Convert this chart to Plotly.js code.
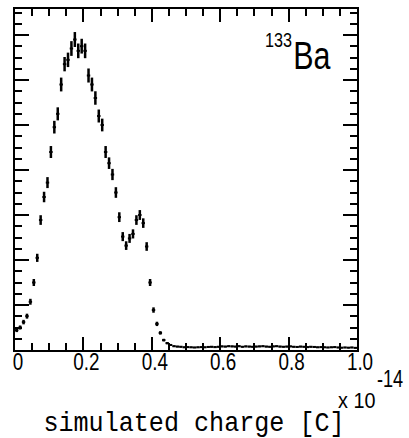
<!DOCTYPE html>
<html><head><meta charset="utf-8">
<script src="https://cdn.plot.ly/plotly-3.0.1.min.js"></script>
<style>
html,body{margin:0;padding:0;background:#fff}
</style>
</head><body>
<div id="plot" style="width:409px;height:438px"></div>
<script>
// bin centers (units of 1e-14 C)
const binCenters = [];
for (let i = 0; i < 100; i++) binCenters.push(+(0.005 + 0.01 * i).toFixed(3));
// counts
const counts = [
 110,125,155,188,268,375,512,722,850,930,
 1100,1238,1312,1475,1588,1612,1675,1725,1662,1688,
 1662,1525,1475,1400,1300,1250,1100,1038,975,875,
 738,630,580,620,645,722,750,705,575,375,
 222,145,95,55,38,28,21,19,18,15,
 16,15,14,15,16,15,17,18,16,18,
 20,19,21,20,19,21,18,20,19,18,
 19,20,21,19,18,20,21,19,18,19,
 20,18,17,19,18,16,18,17,15,16,
 15,14,15,16,14,13,14,13,14,12
];
const xTickVals = [0, 0.2, 0.4, 0.6, 0.8, 1.0];
const xTickText = ['0', '0.2', '0.4', '0.6', '0.8', '1.0'];

const fontSans = '"Liberation Sans", Arial, sans-serif';
const fontMono = '"Liberation Mono", "DejaVu Sans Mono", monospace';

const trace = {
  x: binCenters, y: counts, type: 'scatter', mode: 'markers',
  marker: {size: 1, color: '#000'},
  error_y: {type: 'sqrt', visible: true, color: '#000', thickness: 2.5, width: 0},
  error_x: {type: 'constant', value: 0.005, visible: true, color: '#000', thickness: 2, width: 0},
  hoverinfo: 'skip'
};

function px2x(p) { return (p - 15) / 342; }
function py2y(p) { return (350 - p) / 341; }

const layout = {
  width: 409, height: 438,
  margin: {l: 15, r: 52, t: 9, b: 88},
  paper_bgcolor: '#fff', plot_bgcolor: '#fff',
  showlegend: false,
  xaxis: {
    range: [0, 1.0], showgrid: false, zeroline: false,
    showline: true, linecolor: '#000', linewidth: 2, mirror: 'ticks',
    ticks: 'inside', ticklen: 13, tickwidth: 2, tickcolor: '#000',
    tickvals: xTickVals, ticktext: xTickText,
    ticklabelshift: 3, ticklabelstandoff: -10,
    tickfont: {family: fontSans, size: 23, color: '#000'},
    minor: {ticks: 'inside', ticklen: 7, tickwidth: 2, tickcolor: '#000', dtick: 0.05, showgrid: false}
  },
  yaxis: {
    range: [0, 1894.5], showgrid: false, zeroline: false,
    showline: true, linecolor: '#000', linewidth: 2, mirror: 'ticks',
    ticks: 'inside', ticklen: 14, tickwidth: 2, tickcolor: '#000',
    tick0: 0, dtick: 250, showticklabels: false,
    minor: {ticks: 'inside', ticklen: 7, tickwidth: 2, tickcolor: '#000', dtick: 62.5, showgrid: false}
  },
  annotations: [
    {xref: 'paper', yref: 'paper', x: px2x(311.5), y: py2y(56), xanchor: 'center', yanchor: 'middle',
     text: 'Ba', showarrow: false, font: {family: fontSans, size: 39, color: '#000'}},
    {xref: 'paper', yref: 'paper', x: px2x(278.5), y: py2y(39), xanchor: 'center', yanchor: 'middle',
     text: '133', showarrow: false, font: {family: fontSans, size: 21, color: '#000'}},
    {xref: 'paper', yref: 'paper', x: px2x(390), y: py2y(379), xanchor: 'center', yanchor: 'middle',
     text: '-14', showarrow: false, font: {family: fontSans, size: 23.5, color: '#000'}},
    {xref: 'paper', yref: 'paper', x: px2x(357), y: py2y(400), xanchor: 'center', yanchor: 'middle',
     text: 'x 10', showarrow: false, font: {family: fontSans, size: 22, color: '#000'}},
    {xref: 'paper', yref: 'paper', x: px2x(194), y: py2y(424), xanchor: 'center', yanchor: 'middle',
     text: 'simulated charge [C]', showarrow: false, font: {family: fontMono, size: 27, color: '#000'}}
  ]
};

const annScale = [0.78, 0.77, 0.77, 0.9, 0.93];

function squeeze(t, s) {
  const bb = t.getBBox();
  const cx = bb.x + bb.width / 2;
  const prev = t.getAttribute('transform') || '';
  t.setAttribute('transform', prev + ' translate(' + cx + ',0) scale(' + s + ',1) translate(' + (-cx) + ',0)');
}

Plotly.newPlot('plot', [trace], layout, {staticPlot: true, displayModeBar: false}).then(function (gd) {
  gd.querySelectorAll('.annotation-text').forEach(function (t, i) { squeeze(t, annScale[i]); });
  gd.querySelectorAll('.xtick text').forEach(function (t) { squeeze(t, 0.82); });
});
</script>
</body></html>
